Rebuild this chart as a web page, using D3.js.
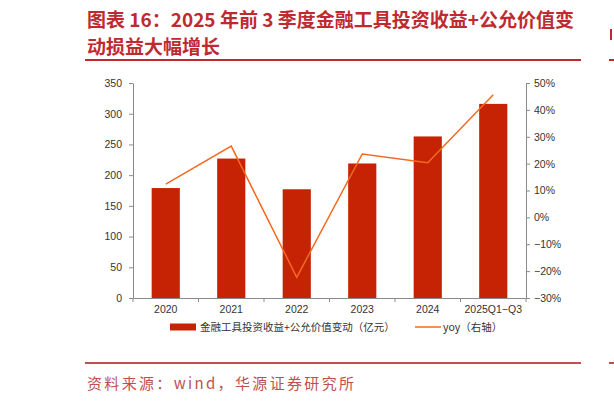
<!DOCTYPE html>
<html>
<head>
<meta charset="utf-8">
<script src="https://cdn.jsdelivr.net/npm/d3@7"></script>
<style>
  html, body { margin: 0; padding: 0; background: #fff; }
  svg { display: block; }
</style>
</head>
<body>
<svg id="chart" width="614" height="402"></svg>
<script>
const categories = ["2020", "2021", "2022", "2023", "2024", "2025Q1\u2212Q3"];
const barValues = [179, 227, 177, 219, 263, 316];
const yoyValues = [12.4, 26.5, -22.3, 23.6, 20.3, 45.6];
const leftTicks = [0, 50, 100, 150, 200, 250, 300, 350];
const rightTicks = [-30, -20, -10, 0, 10, 20, 30, 40, 50];
const titleLines = ["图表 16：2025 年前 3 季度金融工具投资收益+公允价值变", "动损益大幅增长"];
const legendLabels = ["金融工具投资收益+公允价值变动（亿元）", "yoy（右轴）"];
const sourceText = "资料来源：wind，华源证券研究所";

const svg = d3.select("#chart");
const red = "#bf2a30";
const barColor = "#c62304";
const lineColor = "#f26a22";
const axisColor = "#8a8a8a";
const textColor = "#333";
const numFont = "'Liberation Sans', Arial, sans-serif";
const cjkFont = "'Noto Sans CJK SC', sans-serif";

const plotL = 133, plotR = 526, plotT = 83, plotB = 298;

// Title
svg.selectAll("text.title").data(titleLines).enter().append("text")
  .attr("class", "title")
  .attr("x", 87)
  .attr("y", (d, i) => 27 + i * 27)
  .attr("fill", red)
  .attr("font-family", cjkFont)
  .attr("font-weight", 700)
  .attr("font-size", 19)
  .text(d => d);
svg.append("line").attr("x1", 85).attr("x2", 581).attr("y1", 60).attr("y2", 60)
  .attr("stroke", red).attr("stroke-width", 2);
// neighbour fragments on the right edge
svg.append("line").attr("x1", 609).attr("x2", 614).attr("y1", 60).attr("y2", 60)
  .attr("stroke", red).attr("stroke-width", 2);
svg.append("rect").attr("x", 610).attr("y", 29).attr("width", 2).attr("height", 11).attr("fill", red);

// Footer
svg.append("line").attr("x1", 85).attr("x2", 581).attr("y1", 363).attr("y2", 363)
  .attr("stroke", "#c0504d").attr("stroke-width", 2);
svg.append("line").attr("x1", 609).attr("x2", 614).attr("y1", 363).attr("y2", 363)
  .attr("stroke", "#c0504d").attr("stroke-width", 2);
svg.append("text").attr("x", 87).attr("y", 389)
  .attr("fill", "#c0504d")
  .attr("font-family", cjkFont)
  .attr("font-size", 15)
  .attr("textLength", 267)
  .attr("lengthAdjust", "spacing")
  .text(sourceText);

// Scales
const x = d3.scaleBand().domain(categories).range([plotL, plotR]).paddingInner(0.57).paddingOuter(0.285);
const xBand = d3.scaleBand().domain(categories).range([plotL, plotR]).padding(0);
const yL = d3.scaleLinear().domain([0, 350]).range([plotB, plotT]);
const yR = d3.scaleLinear().domain([-30, 50]).range([plotB, plotT]);

// Bars
svg.selectAll("rect.bar").data(barValues).enter().append("rect")
  .attr("class", "bar")
  .attr("x", (d, i) => x(categories[i]))
  .attr("width", x.bandwidth())
  .attr("y", d => yL(d))
  .attr("height", d => yL(0) - yL(d))
  .attr("fill", barColor);

// Line
const line = d3.line()
  .x((d, i) => xBand(categories[i]) + xBand.bandwidth() / 2)
  .y(d => yR(d));
svg.append("path").datum(yoyValues)
  .attr("d", line)
  .attr("fill", "none")
  .attr("stroke", lineColor)
  .attr("stroke-width", 1.5);

// Left axis
const leftAxis = d3.axisLeft(yL).tickValues(leftTicks).tickSize(4).tickPadding(7).tickSizeOuter(0);
const gL = svg.append("g").attr("transform", `translate(${plotL},0)`).call(leftAxis);
// Right axis
const fmtPct = d => (d < 0 ? "\u2212" + Math.abs(d) : d) + "%";
const rightAxis = d3.axisRight(yR).tickValues(rightTicks).tickFormat(fmtPct).tickSize(4).tickPadding(4).tickSizeOuter(0);
const gR = svg.append("g").attr("transform", `translate(${plotR},0)`).call(rightAxis);
// Bottom axis
const bottomAxis = d3.axisBottom(xBand).tickSize(0).tickPadding(8).tickSizeOuter(0);
const gB = svg.append("g").attr("transform", `translate(0,${plotB})`).call(bottomAxis);
// Bottom ticks at category boundaries
gB.selectAll("line.bnd").data(d3.range(categories.length + 1)).enter().append("line")
  .attr("class", "bnd")
  .attr("x1", i => plotL + i * xBand.step())
  .attr("x2", i => plotL + i * xBand.step())
  .attr("y1", 0).attr("y2", 4)
  .attr("stroke", axisColor);

[gL, gR, gB].forEach(g => {
  g.selectAll("path.domain").attr("stroke", axisColor);
  g.selectAll(".tick line").attr("stroke", axisColor);
  g.selectAll("text").attr("fill", textColor).attr("font-family", numFont).attr("font-size", 10.5);
});

// Legend
const legY = 327;
svg.append("rect").attr("x", 170).attr("y", legY - 3.5).attr("width", 26).attr("height", 7).attr("fill", barColor);
svg.append("text").attr("x", 200).attr("y", legY + 4)
  .attr("fill", textColor).attr("font-family", cjkFont).attr("font-size", 10.5)
  .text(legendLabels[0]);
svg.append("line").attr("x1", 415).attr("x2", 441).attr("y1", legY).attr("y2", legY)
  .attr("stroke", lineColor).attr("stroke-width", 1.5);
svg.append("text").attr("x", 443).attr("y", legY + 4)
  .attr("fill", textColor).attr("font-family", cjkFont).attr("font-size", 10.5)
  .text(legendLabels[1]);
</script>
</body>
</html>
